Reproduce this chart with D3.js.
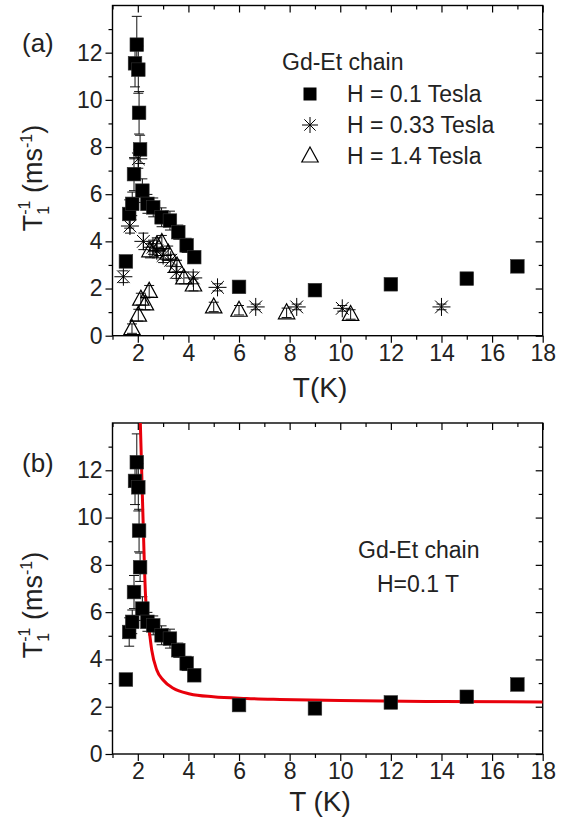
<!DOCTYPE html>
<html>
<head>
<meta charset="utf-8">
<script src="https://cdn.jsdelivr.net/npm/d3@7"></script>
<style>
  body { margin: 0; background: #fff; }
  svg { display: block; font-family: "Liberation Sans", Arial, Helvetica, sans-serif; }
</style>
</head>
<body>
<svg id="chart" width="572" height="821"></svg>
<script>
// H = 0.1 Tesla (squares) - used in both panels
const temp01 = [1.53, 1.66, 1.78, 1.85, 1.89, 1.96, 2.02, 2.05, 2.09, 2.18, 2.38, 2.61, 2.94, 3.27, 3.6, 3.93, 4.23, 6.0, 9.0, 12.0, 15.0, 17.0];
const rate01 = [3.15, 5.16, 5.59, 6.85, 11.55, 12.34, 11.28, 9.45, 7.9, 6.15, 5.59, 5.44, 5.02, 4.88, 4.39, 3.83, 3.33, 2.07, 1.93, 2.18, 2.42, 2.94];
const err01  = [0.2, 0.6, 0.5, 0.7, 1.0, 1.2, 1.0, 0.9, 0.6, 0.5, 0.4, 0.4, 0.4, 0.4, 0.3, 0.3, 0.2, 0.15, 0.12, 0.15, 0.15, 0.2];

// H = 0.33 Tesla (asterisks)
const temp033 = [1.43, 1.69, 2.02, 2.22, 2.6, 2.75, 3.0, 3.3, 3.52, 4.19, 5.15, 6.66, 8.28, 10.08, 14.0];
const rate033 = [2.5, 4.65, 7.5, 4.0, 3.75, 3.6, 3.4, 3.2, 2.68, 2.45, 2.05, 1.22, 1.22, 1.16, 1.22];
const err033  = [0.25, 0.3, 0.4, 0.35, 0.3, 0.3, 0.3, 0.25, 0.25, 0.25, 0.15, 0.12, 0.12, 0.12, 0.12];

// H = 1.4 Tesla (triangles)
const temp14 = [1.77, 2.02, 2.12, 2.3, 2.45, 2.48, 2.75, 2.95, 3.2, 3.55, 3.82, 4.2, 5.0, 6.0, 7.88, 10.41];
const rate14 = [0.3, 0.87, 1.55, 1.35, 1.88, 3.6, 3.85, 3.95, 3.5, 2.95, 2.45, 2.15, 1.22, 1.08, 0.97, 0.9];
const err14  = [0.2, 0.25, 0.25, 0.25, 0.25, 0.3, 0.3, 0.3, 0.3, 0.25, 0.25, 0.25, 0.2, 0.2, 0.2, 0.2];

// fit curve in panel (b)
const fitT    = [2.10, 2.20, 2.31, 2.45, 2.55, 2.75, 3.0, 3.4, 4.06, 4.98, 6.3, 7.62, 10, 14, 18];
const fitRate = [14.0, 10.2, 6.6, 5.24, 4.4, 3.55, 3.13, 2.78, 2.54, 2.42, 2.35, 2.31, 2.26, 2.22, 2.2];

const xMajor = [2, 4, 6, 8, 10, 12, 14, 16, 18];
const xMinor = [1, 3, 5, 7, 9, 11, 13, 15, 17];
const yMajor = [0, 2, 4, 6, 8, 10, 12];
const yMinor = [1, 3, 5, 7, 9, 11, 13];

const svg = d3.select("#chart");
const left = 112.5, right = 542.7;

function zip(t, r, e) {
  return t.map((d, i) => ({ t: d, r: r[i], e: e ? e[i] : 0 }));
}

function panel(id, top, bottom) {
  const x = d3.scaleLinear().domain([1, 18]).range([left, right]);
  const y = d3.scaleLinear().domain([0, 14]).range([bottom, top]);
  const g = svg.append("g");

  g.append("clipPath").attr("id", "clip" + id)
    .append("rect").attr("x", left).attr("y", top).attr("width", right - left).attr("height", bottom - top);

  // axes: outward on bottom/left, inward on top/right
  const axisStyle = (a) => {
    a.select(".domain").remove();
    a.selectAll("line").attr("stroke", "#000").attr("stroke-width", 1.2);
    a.selectAll("text").attr("fill", "#222").style("font-size", "23px");
  };
  g.append("g").attr("transform", `translate(0,${bottom})`)
    .call(d3.axisBottom(x).tickValues(xMajor).tickSize(7).tickPadding(2).tickFormat(d3.format("d")))
    .call(axisStyle);
  g.append("g").attr("transform", `translate(0,${bottom})`)
    .call(d3.axisBottom(x).tickValues(xMinor).tickSize(4).tickFormat(""))
    .call(axisStyle);
  g.append("g").attr("transform", `translate(${left},0)`)
    .call(d3.axisLeft(y).tickValues(yMajor).tickSize(7).tickPadding(3).tickFormat(d3.format("d")))
    .call(axisStyle);
  g.append("g").attr("transform", `translate(${left},0)`)
    .call(d3.axisLeft(y).tickValues(yMinor).tickSize(4).tickFormat(""))
    .call(axisStyle);
  g.append("g").attr("transform", `translate(0,${top})`)
    .call(d3.axisBottom(x).tickValues(xMajor).tickSize(7).tickFormat(""))
    .call(axisStyle);
  g.append("g").attr("transform", `translate(0,${top})`)
    .call(d3.axisBottom(x).tickValues(xMinor).tickSize(4).tickFormat(""))
    .call(axisStyle);
  g.append("g").attr("transform", `translate(${right},0)`)
    .call(d3.axisLeft(y).tickValues(yMajor).tickSize(7).tickFormat(""))
    .call(axisStyle);
  g.append("g").attr("transform", `translate(${right},0)`)
    .call(d3.axisLeft(y).tickValues(yMinor).tickSize(4).tickFormat(""))
    .call(axisStyle);

  g.append("rect").attr("x", left).attr("y", top)
    .attr("width", right - left).attr("height", bottom - top)
    .attr("fill", "none").attr("stroke", "#000").attr("stroke-width", 1.4);

  const plot = g.append("g").attr("clip-path", `url(#clip${id})`);
  return { x, y, g, plot, top, bottom };
}

function errorBars(p, data) {
  const eb = p.plot.append("g").attr("stroke", "#111").attr("stroke-width", 1);
  data.forEach((d) => {
    const cx = p.x(d.t), y0 = p.y(d.r - d.e), y1 = p.y(d.r + d.e);
    eb.append("line").attr("x1", cx).attr("x2", cx).attr("y1", y0).attr("y2", y1);
    eb.append("line").attr("x1", cx - 5).attr("x2", cx + 5).attr("y1", y0).attr("y2", y0);
    eb.append("line").attr("x1", cx - 5).attr("x2", cx + 5).attr("y1", y1).attr("y2", y1);
  });
}

function squares(sel, data, x, y) {
  sel.selectAll(null).data(data).join("rect")
    .attr("x", (d) => x(d.t) - 6.8).attr("y", (d) => y(d.r) - 6.8)
    .attr("width", 13.6).attr("height", 13.6)
    .attr("fill", "#000").attr("stroke", "#333").attr("stroke-width", 0.6);
}

const starPath = (s) => {
  const a = s * 0.7071;
  return `M0,${-s}V${s}M${-s},0H${s}M${-a},${-a}L${a},${a}M${-a},${a}L${a},${-a}`;
};
function stars(sel, data, x, y) {
  sel.selectAll(null).data(data).join("path")
    .attr("transform", (d) => `translate(${x(d.t)},${y(d.r)})`)
    .attr("d", starPath(9))
    .attr("fill", "none").attr("stroke", "#000").attr("stroke-width", 1);
}

const triPath = "M0,-9L8.2,6L-8.2,6Z";
function triangles(sel, data, x, y) {
  sel.selectAll(null).data(data).join("path")
    .attr("transform", (d) => `translate(${x(d.t)},${y(d.r)})`)
    .attr("d", triPath)
    .attr("fill", "none").attr("stroke", "#000").attr("stroke-width", 1.2);
}

function yLabel(cx, cy) {
  const t = svg.append("text")
    .attr("transform", `translate(${cx},${cy}) rotate(-90)`)
    .attr("text-anchor", "middle").attr("fill", "#222").style("font-size", "27px");
  t.append("tspan").text("T");
  t.append("tspan").attr("dy", 7).style("font-size", "16px").text("1");
  t.append("tspan").attr("dx", -9).attr("dy", -19).style("font-size", "16px").text("-1");
  t.append("tspan").attr("dy", 12).text(" (ms");
  t.append("tspan").attr("dy", -10).style("font-size", "16px").text("-1");
  t.append("tspan").attr("dy", 10).text(")");
}

// ---------- panel (a)
const pa = panel("a", 5.5, 335.7);
const d01 = zip(temp01, rate01, err01);
const d033 = zip(temp033, rate033, err033);
const d14 = zip(temp14, rate14, err14);
errorBars(pa, d14);
errorBars(pa, d033);
errorBars(pa, d01);
triangles(pa.plot.append("g"), d14, pa.x, pa.y);
stars(pa.plot.append("g"), d033, pa.x, pa.y);
squares(pa.plot.append("g"), d01, pa.x, pa.y);

svg.append("text").attr("x", 320).attr("y", 397).attr("text-anchor", "middle")
  .attr("fill", "#222").style("font-size", "28px").text("T(K)");
yLabel(42, 178);
svg.append("text").attr("x", 22).attr("y", 52).attr("fill", "#222").style("font-size", "26px").text("(a)");

// legend (a)
const leg = svg.append("g").attr("fill", "#222").style("font-size", "23px");
leg.append("text").attr("x", 282).attr("y", 70).text("Gd-Et chain");
const legRows = ["H = 0.1 Tesla", "H = 0.33 Tesla", "H = 1.4 Tesla"];
const legY = [94, 125, 156];
legRows.forEach((s, i) => leg.append("text").attr("x", 347).attr("y", legY[i] + 8).text(s));
leg.append("rect").attr("x", 303.5).attr("y", legY[0] - 6.5).attr("width", 13).attr("height", 13).attr("fill", "#000");
leg.append("path").attr("transform", `translate(310,${legY[1]})`).attr("d", starPath(8))
  .attr("fill", "none").attr("stroke", "#000").attr("stroke-width", 1);
leg.append("path").attr("transform", `translate(310,${legY[2]})`).attr("d", triPath)
  .attr("fill", "none").attr("stroke", "#000").attr("stroke-width", 1.2);

// ---------- panel (b)
const pb = panel("b", 423, 754);
errorBars(pb, d01);
pb.plot.append("path")
  .datum(zip(fitT, fitRate))
  .attr("d", d3.line().x((d) => pb.x(d.t)).y((d) => pb.y(d.r)).curve(d3.curveMonotoneX))
  .attr("fill", "none").attr("stroke", "#e8000b").attr("stroke-width", 3);
squares(pb.plot.append("g"), d01, pb.x, pb.y);

svg.append("text").attr("x", 320).attr("y", 811).attr("text-anchor", "middle")
  .attr("fill", "#222").style("font-size", "28px").text("T (K)");
yLabel(42, 605);
svg.append("text").attr("x", 22).attr("y", 472).attr("fill", "#222").style("font-size", "26px").text("(b)");
svg.append("text").attr("x", 358).attr("y", 558).attr("fill", "#222").style("font-size", "23px").text("Gd-Et chain");
svg.append("text").attr("x", 377).attr("y", 592).attr("fill", "#222").style("font-size", "23px").text("H=0.1 T");
</script>
</body>
</html>
